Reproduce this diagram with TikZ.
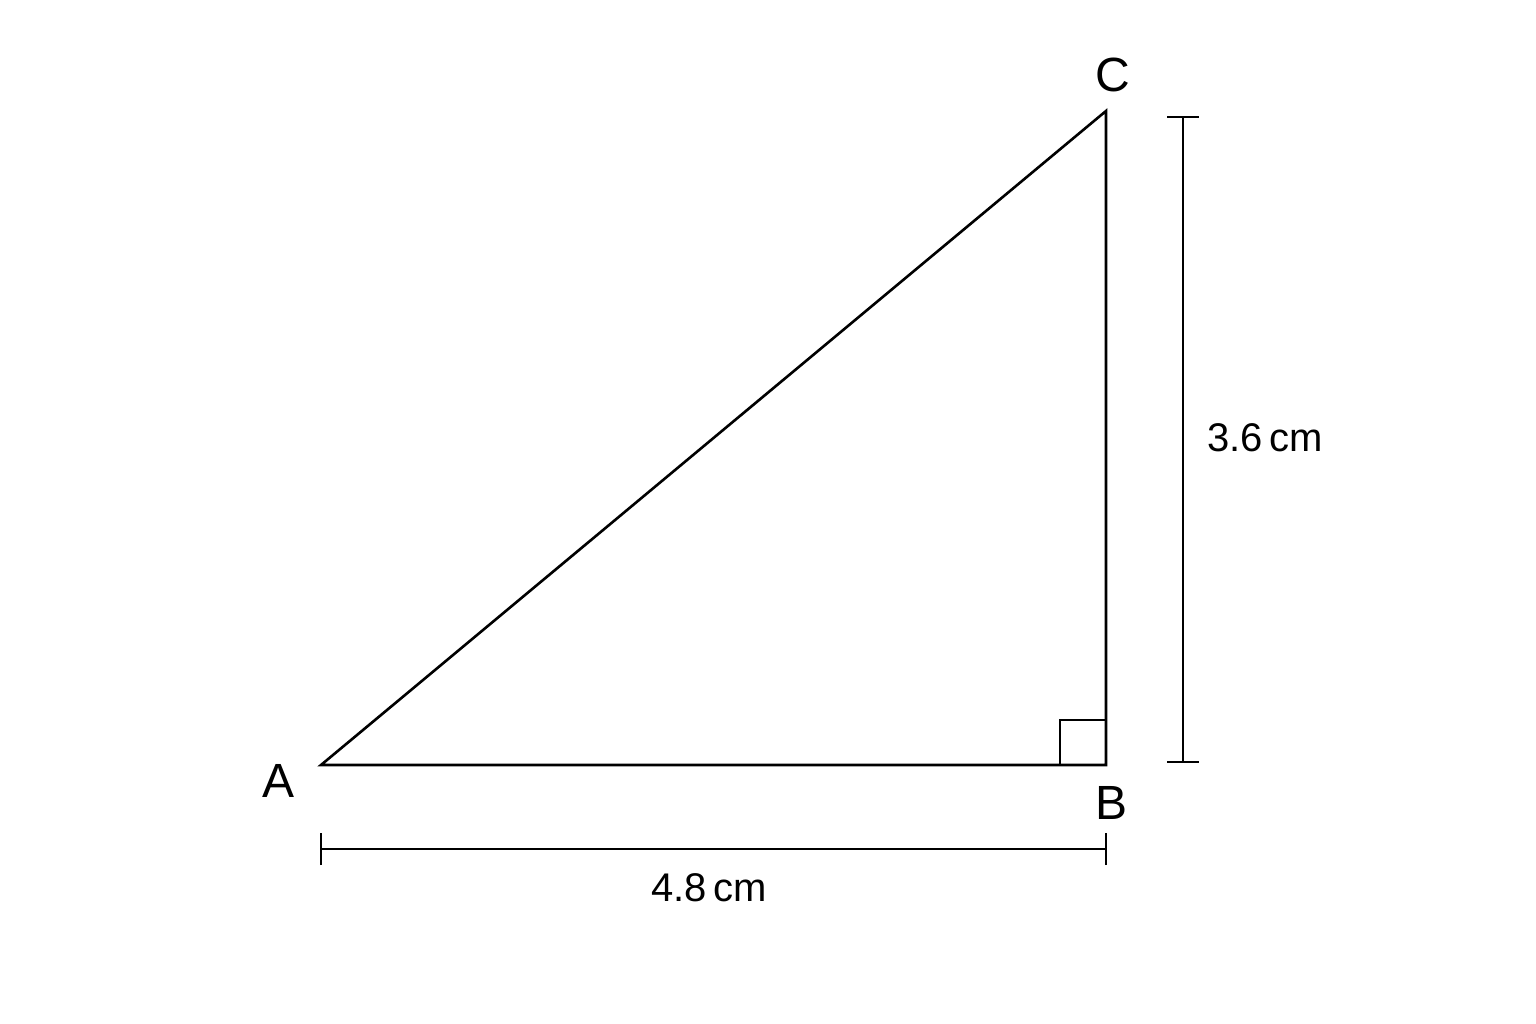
\documentclass[tikz,border=0pt]{standalone}
\usepackage{fontspec}
\setmainfont{Liberation Sans}
\begin{document}
\begin{tikzpicture}[x=1pt,y=-1pt,
  edge/.style={line width=2.6pt,line join=miter},
  dim/.style={line width=1.6pt},
  vlabel/.style={font=\fontsize{48}{50}\selectfont,inner sep=0pt},
  dlabel/.style={font=\fontsize{40}{44}\selectfont,inner sep=0pt}]
\useasboundingbox[fill=white] (0,0) rectangle (1536,1024);
\coordinate (A) at (321,765);
\coordinate (B) at (1106,765);
\coordinate (C) at (1106,111);
\draw[edge] (A) -- (B) -- (C) -- cycle;
\coordinate (Q1) at (1060,765);
\coordinate (Q2) at (1060,720);
\coordinate (Q3) at (1106,720);
\draw[line width=2.2pt] (Q1) -- (Q2) -- (Q3);
% horizontal dimension
\coordinate (H1) at (321,849);
\coordinate (H2) at (1106,849);
\draw[dim] (H1) -- (H2);
\draw[dim] ([yshift=-16pt]H1) -- ([yshift=16pt]H1);
\draw[dim] ([yshift=-16pt]H2) -- ([yshift=16pt]H2);
% vertical dimension
\coordinate (V1) at (1183,117);
\coordinate (V2) at (1183,762);
\draw[dim] (V1) -- (V2);
\draw[dim] ([xshift=-16pt]V1) -- ([xshift=16pt]V1);
\draw[dim] ([xshift=-16pt]V2) -- ([xshift=16pt]V2);
% labels
\node[vlabel] (lA) at (279,781) {A};
\node[vlabel] (lB) at (1111,803) {B};
\node[vlabel] (lC) at (1113,75) {C};
\node[dlabel] (lH) at (709,888) {4.8\,cm};
\node[dlabel] (lV) at (1265,438) {3.6\,cm};
\end{tikzpicture}
\end{document}
